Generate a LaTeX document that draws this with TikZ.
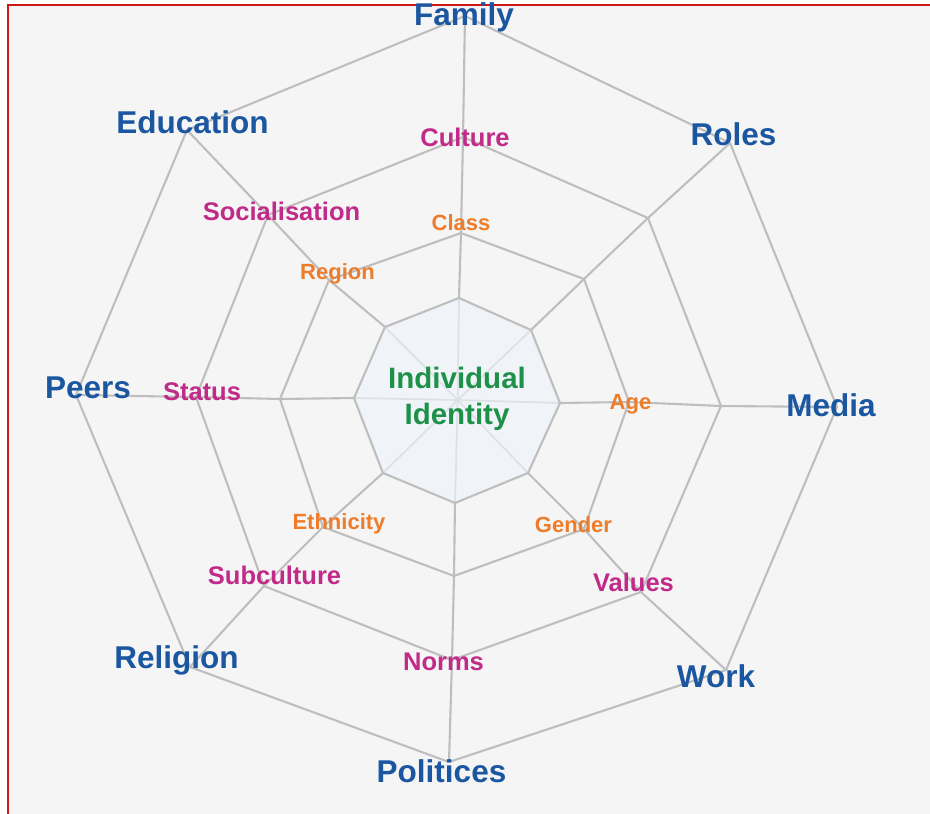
\documentclass[tikz,border=0pt]{standalone}
\usepackage{fontspec}
\setmainfont{Liberation Sans}
\definecolor{bgc}{HTML}{F5F5F5}
\definecolor{framec}{HTML}{D01515}
\definecolor{webc}{HTML}{BEBEBE}
\definecolor{spokein}{HTML}{DCE1E7}
\definecolor{corefill}{HTML}{F0F4F9}
\definecolor{bluec}{HTML}{1B56A0}
\definecolor{magc}{HTML}{C12A88}
\definecolor{orc}{HTML}{EE7D2B}
\definecolor{grc}{HTML}{1E9148}
\tikzset{
  web/.style={draw=webc, line width=2.1pt, line join=round},
  inspoke/.style={draw=spokein, line width=1.7pt},
  outerlbl/.style={font=\fontsize{31.5}{36}\selectfont\bfseries, text=bluec, inner sep=0pt},
  midlbl/.style={font=\fontsize{25.5}{30}\selectfont\bfseries, text=magc, inner sep=0pt},
  innerlbl/.style={font=\fontsize{22}{26}\selectfont\bfseries, text=orc, inner sep=0pt},
  corelbl/.style={font=\fontsize{29.5}{36}\selectfont\bfseries, text=grc, align=center, inner sep=0pt}
}
\begin{document}
\begin{tikzpicture}[x=1pt,y=-1pt]
\useasboundingbox (0,0) rectangle (930,814);
\fill[white] (0,0) rectangle (930,814);
\fill[bgc] (8,5) rectangle (930,814);
\draw[framec, line width=2pt] (8.3,814) -- (8.3,5.2) -- (930,5.2);

\coordinate (c) at (457.7,400);
% ring 1 (T, TR, R, BR, B, BL, L, TL)
\coordinate (a1) at (459,298);
\coordinate (a2) at (531,330);
\coordinate (a3) at (560,403);
\coordinate (a4) at (528,473);
\coordinate (a5) at (455,503);
\coordinate (a6) at (383,473);
\coordinate (a7) at (354,398);
\coordinate (a8) at (385,327);
% ring 2
\coordinate (b1) at (461,233);
\coordinate (b2) at (584,279);
\coordinate (b3) at (629,402);
\coordinate (b4) at (584,529);
\coordinate (b5) at (454,576);
\coordinate (b6) at (323,527);
\coordinate (b7) at (280,399);
\coordinate (b8) at (329,280);
% ring 3
\coordinate (d1) at (463,137);
\coordinate (d2) at (648,218);
\coordinate (d3) at (721,406);
\coordinate (d4) at (641,592);
\coordinate (d5) at (452,660);
\coordinate (d6) at (264,586);
\coordinate (d7) at (196,397);
\coordinate (d8) at (268,215);
% ring 4
\coordinate (e1) at (465,16);
\coordinate (e2) at (730,143);
\coordinate (e3) at (837,407);
\coordinate (e4) at (726,670);
\coordinate (e5) at (449,762);
\coordinate (e6) at (190,667);
\coordinate (e7) at (76,395);
\coordinate (e8) at (187,130);

\fill[corefill] (a1)--(a2)--(a3)--(a4)--(a5)--(a6)--(a7)--(a8)--cycle;
\foreach \i in {1,...,8} {\draw[inspoke] (c) -- (a\i);}
\foreach \i in {1,...,8} {\draw[web] (a\i) -- (b\i) -- (d\i) -- (e\i);}
\draw[web] (a1)--(a2)--(a3)--(a4)--(a5)--(a6)--(a7)--(a8)--cycle;
\draw[web] (b1)--(b2)--(b3)--(b4)--(b5)--(b6)--(b7)--(b8)--cycle;
\draw[web] (d1)--(d2)--(d3)--(d4)--(d5)--(d6)--(d7)--(d8)--cycle;
\draw[web] (e1)--(e2)--(e3)--(e4)--(e5)--(e6)--(e7)--(e8)--cycle;

% outer labels
\node[outerlbl] (family) at (464,17) {Family};
\node[outerlbl] (roles) at (733.5,134) {Roles};
\node[outerlbl] (media) at (831,405) {Media};
\node[outerlbl] (work) at (716,676) {Work};
\node[outerlbl] (politices) at (441.5,771.5) {Politices};
\node[outerlbl] (religion) at (176.5,660) {Religion};
\node[outerlbl] (peers) at (88,388) {Peers};
\node[outerlbl] (education) at (192.5,122) {Education};
% middle labels
\node[midlbl] (culture) at (465,137) {Culture};
\node[midlbl] (social) at (281.5,211.5) {Socialisation};
\node[midlbl] (status) at (202,391.5) {Status};
\node[midlbl] (subcult) at (274.5,575) {Subculture};
\node[midlbl] (norms) at (443.5,662) {Norms};
\node[midlbl] (values) at (633.5,582.5) {Values};
% inner labels
\node[innerlbl] (class) at (461,222.5) {Class};
\node[innerlbl] (region) at (337.5,273.5) {Region};
\node[innerlbl] (age) at (630.5,404) {Age};
\node[innerlbl] (gender) at (573.5,525) {Gender};
\node[innerlbl] (ethnic) at (339,524) {Ethnicity};
% core
\node[corelbl] (core) at (457,398.5) {Individual\\Identity};
\end{tikzpicture}
\end{document}
